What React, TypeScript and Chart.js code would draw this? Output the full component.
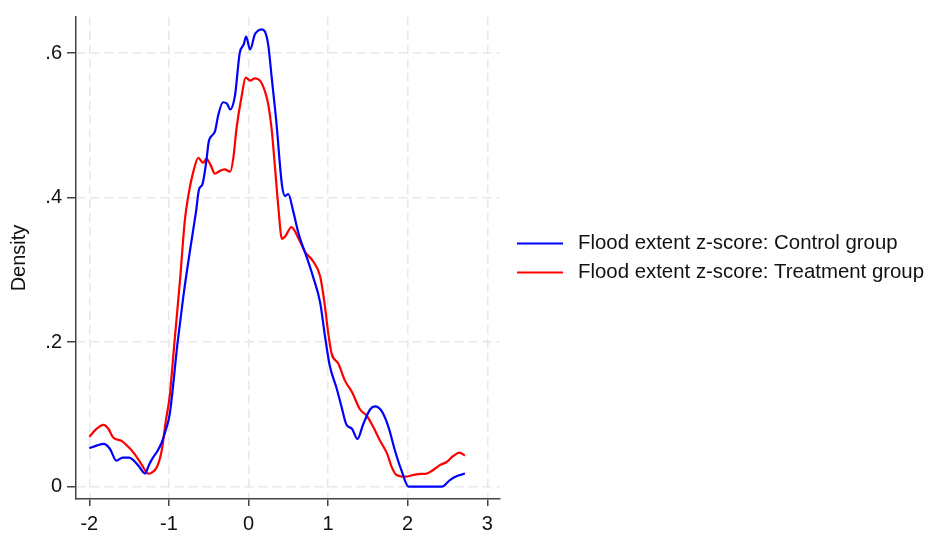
import React, { useEffect, useRef } from "react";
import { Chart, registerables } from "chart.js";

Chart.register(...registerables);

// ---- Data ----
const seriesLabels = [
  "Flood extent z-score: Control group",
  "Flood extent z-score: Treatment group",
];

const controlX = [
  -2.0, -1.9, -1.82, -1.74, -1.66, -1.58, -1.5, -1.44, -1.37, -1.3, -1.25, -1.2,
  -1.14, -1.09, -1.04, -0.99, -0.89, -0.82, -0.74, -0.66, -0.62, -0.58, -0.53,
  -0.5, -0.45, -0.42, -0.38, -0.32, -0.27, -0.23, -0.17, -0.11, -0.06, -0.03,
  0.02, 0.08, 0.12, 0.165, 0.21, 0.25, 0.29, 0.35, 0.42, 0.46, 0.5, 0.56, 0.63,
  0.73, 0.81, 0.9, 0.96, 1.02, 1.11, 1.17, 1.23, 1.3, 1.37, 1.44, 1.53, 1.59,
  1.67, 1.76, 1.84, 1.92, 2.01, 2.43, 2.53, 2.62, 2.72,
];
const controlY = [
  0.053, 0.057, 0.059, 0.052, 0.036, 0.04, 0.04, 0.036, 0.027, 0.018, 0.03, 0.04,
  0.05, 0.061, 0.078, 0.1, 0.2, 0.262, 0.323, 0.38, 0.412, 0.418, 0.45, 0.477,
  0.487, 0.492, 0.514, 0.532, 0.53, 0.522, 0.541, 0.6, 0.612, 0.623, 0.605,
  0.626, 0.631, 0.633, 0.629, 0.61, 0.568, 0.505, 0.418, 0.402, 0.405, 0.382,
  0.35, 0.318, 0.291, 0.255, 0.209, 0.168, 0.135, 0.11, 0.086, 0.08, 0.066,
  0.086, 0.107, 0.111, 0.105, 0.082, 0.05, 0.023, 0.0, 0.0, 0.009, 0.0146, 0.018,
];

const treatX = [
  -2.0, -1.91, -1.82, -1.76, -1.7, -1.59, -1.51, -1.43, -1.34, -1.26, -1.22,
  -1.15, -1.09, -1.04, -0.99, -0.93, -0.86, -0.8, -0.76, -0.69, -0.63, -0.57,
  -0.53, -0.48, -0.42, -0.36, -0.3, -0.23, -0.19, -0.15, -0.085, -0.035, 0.02,
  0.08, 0.145, 0.21, 0.25, 0.29, 0.33, 0.375, 0.42, 0.46, 0.54, 0.63, 0.71,
  0.81, 0.9, 0.96, 1.0, 1.045, 1.13, 1.21, 1.3, 1.4, 1.485, 1.57, 1.65, 1.74,
  1.8, 1.86, 1.97, 2.07, 2.13, 2.24, 2.32, 2.41, 2.49, 2.57, 2.65, 2.72,
];
const treatY = [
  0.069, 0.08, 0.0855, 0.08, 0.068, 0.063, 0.055, 0.045, 0.03, 0.018, 0.019,
  0.027, 0.05, 0.09, 0.125, 0.2, 0.286, 0.368, 0.4, 0.437, 0.455, 0.448, 0.454,
  0.446, 0.433, 0.437, 0.439, 0.436, 0.455, 0.496, 0.541, 0.566, 0.562, 0.565,
  0.562, 0.546, 0.528, 0.496, 0.446, 0.387, 0.343, 0.346, 0.359, 0.343, 0.325,
  0.312, 0.291, 0.25, 0.214, 0.184, 0.17, 0.147, 0.131, 0.107, 0.098, 0.082,
  0.064, 0.046, 0.027, 0.016, 0.0137, 0.016, 0.0173, 0.018, 0.023, 0.03, 0.034,
  0.042, 0.047, 0.043,
];

const xTickValues = [-2, -1, 0, 1, 2, 3];
const xTickLabels = ["-2", "-1", "0", "1", "2", "3"];
const yTickValues = [0, 0.2, 0.4, 0.6];
const yTickLabels = ["0", ".2", ".4", ".6"];
const yTitle = "Density";

const seriesColors = ["#0000ff", "#ff0000"];

const FONT = '"Liberation Sans", Arial, Helvetica, sans-serif';

const sideLegend = {
  id: "sideLegend",
  afterDraw(chart: any) {
    const { ctx, chartArea } = chart;
    const cy = (chartArea.top + chartArea.bottom) / 2;
    const gap = 29;
    const n = chart.data.datasets.length;
    chart.data.datasets.forEach((ds: any, i: number) => {
      const y = cy - ((n - 1) * gap) / 2 + i * gap;
      const x0 = chartArea.right + 17;
      ctx.save();
      ctx.strokeStyle = ds.borderColor;
      ctx.lineWidth = 2;
      ctx.beginPath();
      ctx.moveTo(x0, y);
      ctx.lineTo(x0 + 46, y);
      ctx.stroke();
      ctx.fillStyle = "#111";
      ctx.font = `20.4px ${FONT}`;
      ctx.textBaseline = "middle";
      ctx.textAlign = "left";
      ctx.fillText(ds.label, x0 + 61, y);
      ctx.restore();
    });
  },
};

export default function App() {
  const ref = useRef<HTMLCanvasElement | null>(null);

  useEffect(() => {
    if (!ref.current) return;
    const toPts = (xs: number[], ys: number[]) =>
      xs.map((x, i) => ({ x, y: ys[i] }));

    const chart = new Chart(ref.current, {
      type: "scatter",
      data: {
        datasets: [
          {
            label: seriesLabels[0],
            data: toPts(controlX, controlY),
            borderColor: seriesColors[0],
            backgroundColor: seriesColors[0],
            borderWidth: 2.2,
            showLine: true,
            pointRadius: 0,
            cubicInterpolationMode: "monotone",
          },
          {
            label: seriesLabels[1],
            data: toPts(treatX, treatY),
            borderColor: seriesColors[1],
            backgroundColor: seriesColors[1],
            borderWidth: 2.2,
            showLine: true,
            pointRadius: 0,
            cubicInterpolationMode: "monotone",
          },
        ],
      },
      options: {
        animation: false,
        responsive: false,
        layout: { padding: { left: 0, top: 10, right: 425, bottom: 0 } },
        plugins: {
          legend: { display: false },
          tooltip: { enabled: false },
        },
        scales: {
          x: {
            type: "linear",
            min: -2.167,
            max: 3.16,
            afterBuildTicks: (s: any) => {
              s.ticks = xTickValues.map((v) => ({ value: v }));
            },
            afterFit: (s: any) => {
              s.height = 34;
            },
            ticks: {
              callback: (_v: any, i: number) => xTickLabels[i],
              font: { family: FONT, size: 20 },
              color: "#111",
              padding: 6,
              maxRotation: 0,
            },
            grid: {
              color: "#e8e8e8",
              lineWidth: 1.5,
              tickColor: "#444",
              tickLength: 7,
              tickWidth: 1.5,
            },
            border: { display: true, color: "#444", width: 1.5, dash: [9, 5] },
          },
          y: {
            type: "linear",
            min: -0.0172,
            max: 0.65,
            afterBuildTicks: (s: any) => {
              s.ticks = yTickValues.map((v) => ({ value: v }));
            },
            afterFit: (s: any) => {
              s.width = 76;
            },
            ticks: {
              callback: (_v: any, i: number) => yTickLabels[i],
              font: { family: FONT, size: 20 },
              color: "#111",
              padding: 5,
            },
            grid: {
              color: "#e8e8e8",
              lineWidth: 1.5,
              tickColor: "#444",
              tickLength: 9,
              tickWidth: 1.5,
            },
            border: { display: true, color: "#444", width: 1.5, dash: [9, 5] },
            title: {
              display: true,
              text: yTitle,
              font: { family: FONT, size: 20 },
              color: "#111",
              padding: { top: 7, bottom: 0 },
            },
          },
        },
      } as any,
      plugins: [sideLegend],
    });
    return () => chart.destroy();
  }, []);

  return (
    <div style={{ position: "absolute", left: 0, top: 0, width: 925, height: 533, background: "#fff" }}>
      <canvas ref={ref} width={925} height={533} />
    </div>
  );
}
